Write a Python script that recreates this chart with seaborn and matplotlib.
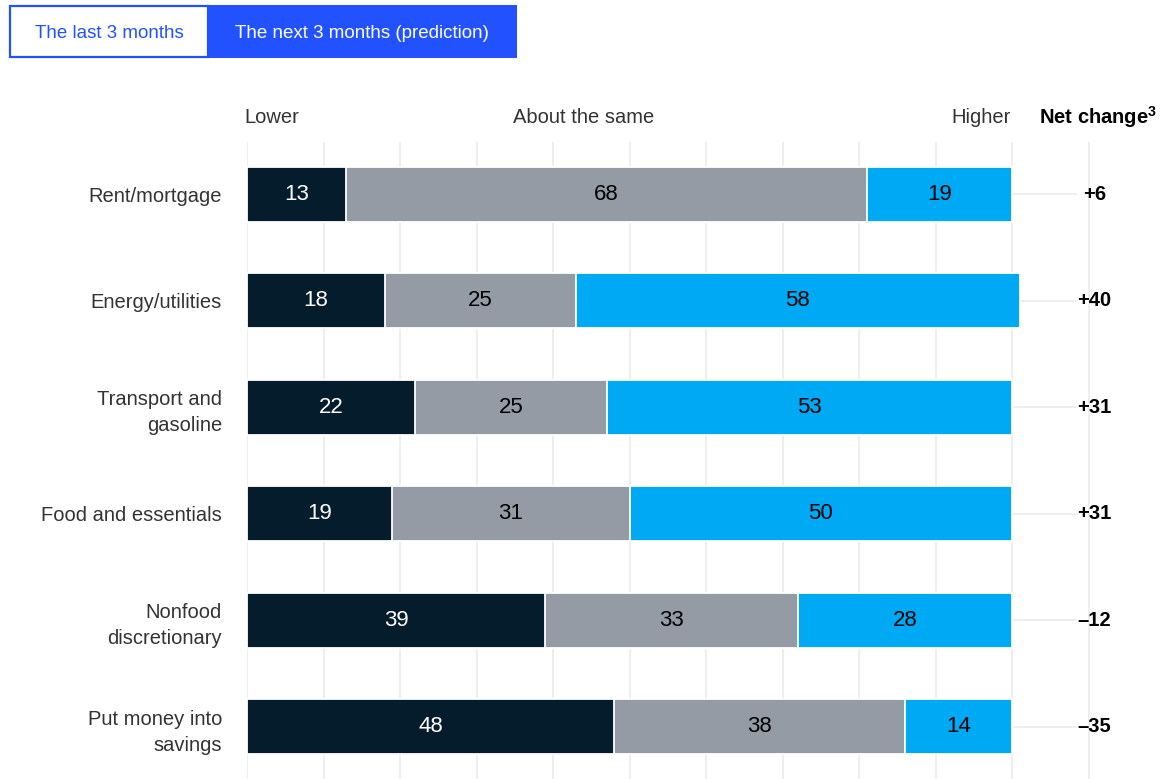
import matplotlib
matplotlib.use("Agg")
import matplotlib.pyplot as plt
from matplotlib.patches import Rectangle
import seaborn as sns
import pandas as pd

# Survey responses (% of respondents) per spending category
categories = [
    "Rent/mortgage",
    "Energy/utilities",
    "Transport and\ngasoline",
    "Food and essentials",
    "Nonfood\ndiscretionary",
    "Put money into\nsavings",
]
lower = [13, 18, 22, 19, 39, 48]
same = [68, 25, 25, 31, 33, 38]
higher = [19, 58, 53, 50, 28, 14]
net_change = [6, 40, 31, 31, -12, -35]

column_headers = ["Lower", "About the same", "Higher"]
net_header = r"Net change$^{\mathbf{3}}$"
tab_labels = ["The last 3 months", "The next 3 months (prediction)"]

NAVY = "#051C2C"
GRAY = "#959BA5"
CYAN = "#00A9F4"
BLUE = "#2251FF"
GRID = "#EDEDED"
TEXT = "#333333"

sns.set_theme(style="white")
plt.rcParams["font.family"] = ["Liberation Sans", "DejaVu Sans"]
plt.rcParams["mathtext.fontset"] = "custom"
plt.rcParams["mathtext.bf"] = "Liberation Sans:bold"
plt.rcParams["mathtext.rm"] = "Liberation Sans"

df = pd.DataFrame({"category": categories, "lower": lower,
                   "same": same, "higher": higher})
df["cum_same"] = df["lower"] + df["same"]
df["cum_total"] = df["cum_same"] + df["higher"]

W, H = 1168, 779
fig = plt.figure(figsize=(W / 100, H / 100), dpi=100)
ax = fig.add_axes([247 / W, 0, (W - 247) / W, (H - 142) / H])

bar_kw = dict(y="category", orient="h", width=0.52, saturation=1,
              edgecolor="white", linewidth=1.3, ax=ax)
# stacked segments drawn as overlapping cumulative bars
sns.barplot(data=df, x="cum_total", color=CYAN, **bar_kw)
sns.barplot(data=df, x="cum_same", color=GRAY, **bar_kw)
sns.barplot(data=df, x="lower", color=NAVY, **bar_kw)

scale_max = (W - 247) / 7.65
ax.set_xlim(0, scale_max)
ax.set_ylim(len(categories) - 0.51, -0.49)

# vertical guides every 10 points, plus one through the net-change column
for gx in range(0, 111, 10):
    ax.axvline(gx, color=GRID, lw=1.3, zorder=0)

for i, row in df.iterrows():
    # segment values
    ax.text(row["lower"] / 2, i, f"{row['lower']}", ha="center", va="center",
            color="white", fontsize=16)
    ax.text(row["lower"] + row["same"] / 2, i, f"{row['same']}", ha="center",
            va="center", color="black", fontsize=16)
    ax.text(row["cum_same"] + row["higher"] / 2, i, f"{row['higher']}",
            ha="center", va="center", color="black", fontsize=16)
    # connector to net change
    ax.hlines(i, row["cum_total"], 108.5, color=GRID, lw=1.3, zorder=0)
    nc = net_change[i]
    label = f"+{nc}" if nc > 0 else f"\u2013{abs(nc)}"
    ax.text(110.8, i, label, ha="center", va="center", color="black",
            fontsize=14.5, fontweight="bold")

# column headers
hy = -0.72
ax.text(-0.3, hy, column_headers[0], ha="left", va="center", color=TEXT, fontsize=14.5)
ax.text(44.0, hy, column_headers[1], ha="center", va="center", color=TEXT, fontsize=14.5)
ax.text(99.9, hy, column_headers[2], ha="right", va="center", color=TEXT, fontsize=14.5)
ax.text(111.2, hy, net_header, ha="center", va="center", color="black",
        fontsize=14.5, fontweight="bold")

ax.set_xlabel("")
ax.set_ylabel("")
ax.set_xticks([])
ax.tick_params(axis="y", length=0, pad=18, labelsize=14.5, labelcolor=TEXT)
for t in ax.get_yticklabels():
    t.set_linespacing(1.45)
    t.set_ha("right")
sns.despine(ax=ax, left=True, bottom=True)

# toggle tabs above the chart
def fx(px):
    return px / W

def fy(py):
    return 1 - py / H

fig.patches.append(Rectangle((fx(10), fy(57)), fx(198), 51 / H, transform=fig.transFigure,
                             facecolor="white", edgecolor=BLUE, lw=1.6))
fig.patches.append(Rectangle((fx(208), fy(58)), fx(309), 53 / H, transform=fig.transFigure,
                             facecolor=BLUE, edgecolor=BLUE, lw=0))
fig.text(fx(109), fy(33), tab_labels[0], ha="center", va="center", color=BLUE, fontsize=13.5)
fig.text(fx(362), fy(33), tab_labels[1], ha="center", va="center", color="white", fontsize=13.5)

fig.savefig("out.png", dpi=100, facecolor="white")
